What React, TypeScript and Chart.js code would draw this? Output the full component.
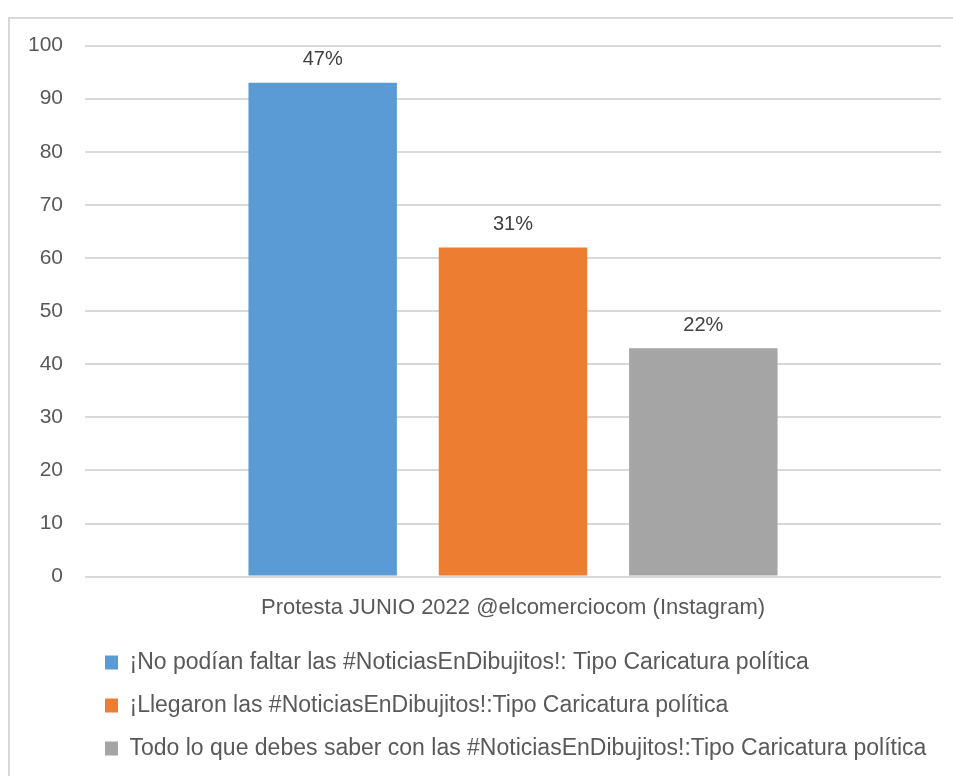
import React, { useEffect, useRef } from "react";
import { Chart, registerables } from "chart.js";

Chart.register(...registerables);

const categories = ["Protesta JUNIO 2022 @elcomerciocom (Instagram)"];
const seriesNames = [
  "¡No podían faltar las #NoticiasEnDibujitos!: Tipo Caricatura política",
  "¡Llegaron las #NoticiasEnDibujitos!:Tipo Caricatura política",
  "Todo lo que debes saber con las #NoticiasEnDibujitos!:Tipo Caricatura política",
];
const seriesValues = [[93], [62], [43]];
const percentLabels = ["47%", "31%", "22%"];
const seriesColors = ["#5B9BD5", "#ED7D31", "#A5A5A5"];
const yTicks = [0, 10, 20, 30, 40, 50, 60, 70, 80, 90, 100];

const FONT = "'Liberation Sans', Arial, sans-serif";
const TEXT = "#595959";

const percentPlugin = {
  id: "percentLabels",
  afterDatasetsDraw(chart: any) {
    const ctx = chart.ctx;
    ctx.save();
    ctx.font = `20px ${FONT}`;
    ctx.fillStyle = "#404040";
    ctx.textAlign = "center";
    ctx.textBaseline = "middle";
    chart.data.datasets.forEach((ds: any, i: number) => {
      const meta = chart.getDatasetMeta(i);
      const bar = meta.data[0];
      if (bar) ctx.fillText(percentLabels[i], bar.x, bar.y - 23);
    });
    ctx.restore();
  },
};

export default function App() {
  const ref = useRef<HTMLCanvasElement>(null);
  useEffect(() => {
    if (!ref.current) return;
    const chart = new Chart(ref.current, {
      type: "bar",
      data: {
        labels: categories,
        datasets: seriesNames.map((name, i) => ({
          label: name,
          data: seriesValues[i],
          backgroundColor: seriesColors[i],
          borderWidth: 0,
          categoryPercentage: 0.667,
          barPercentage: 0.78,
        })),
      },
      options: {
        animation: false,
        responsive: false,
        maintainAspectRatio: false,
        layout: { padding: { left: 0, right: 12, top: 13, bottom: 0 } },
        plugins: {
          tooltip: { enabled: false },
          legend: {
            position: "bottom",
            align: "start",
            fullSize: false,
            labels: {
              boxWidth: 13,
              boxHeight: 14,
              padding: 20,
              color: TEXT,
              font: { family: FONT, size: 23 },
            },
          },
        },
        scales: {
          x: {
            grid: { display: false },
            border: { display: false },
            ticks: {
              color: TEXT,
              font: { family: FONT, size: 22 },
              padding: 10,
            },
          },
          y: {
            min: 0,
            max: 100,
            afterBuildTicks: (axis: any) => {
              axis.ticks = yTicks.map((v) => ({ value: v }));
            },
            afterFit: (axis: any) => {
              axis.width = 75;
            },
            grid: { color: "#D9D9D9", lineWidth: 2, drawTicks: false },
            border: { display: false },
            ticks: {
              color: TEXT,
              font: { family: FONT, size: 21 },
              padding: 22,
            },
          },
        },
      },
      plugins: [percentPlugin],
    });
    return () => chart.destroy();
  }, []);

  return (
    <div
      style={{
        position: "fixed",
        left: 8,
        top: 17,
        width: 960,
        height: 770,
        borderTop: "2px solid #D9D9D9",
        borderLeft: "2px solid #D9D9D9",
        boxSizing: "border-box",
        overflow: "hidden",
      }}
    >
      <canvas
        ref={ref}
        width={943}
        height={759}
        style={{ display: "block", width: 943, height: 759, marginTop: -8 }}
      />
    </div>
  );
}
